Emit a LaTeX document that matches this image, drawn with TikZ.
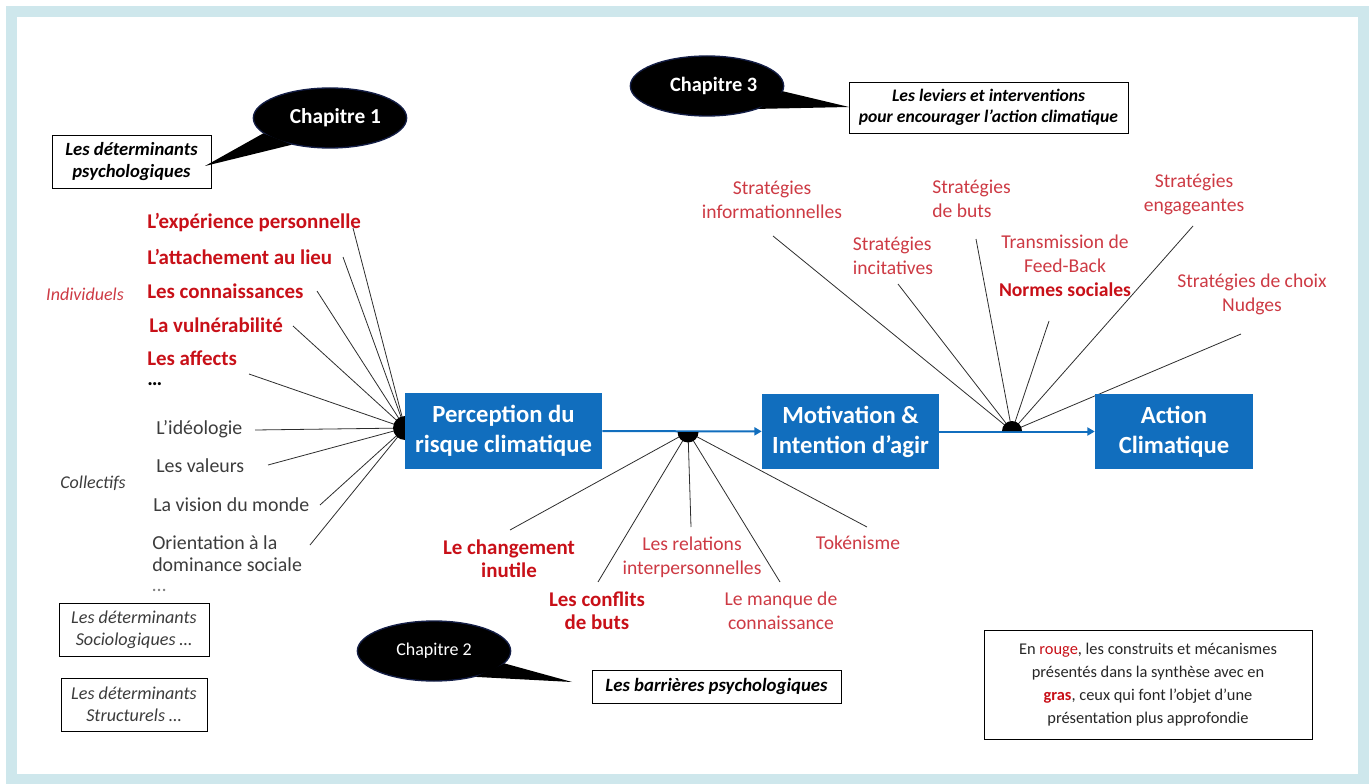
\documentclass[tikz,border=0pt]{standalone}
\usepackage{fontspec}
\setmainfont{Carlito}
\usepackage{xcolor}
\usepackage{tikz}
\usetikzlibrary{arrows.meta,shapes.geometric}

\definecolor{frameblue}{RGB}{206,231,236}
\definecolor{boxblue}{RGB}{17,110,190}
\definecolor{strongred}{RGB}{200,16,24}
\definecolor{softred}{RGB}{205,58,68}
\definecolor{greytext}{RGB}{60,60,60}
\definecolor{spokegrey}{RGB}{45,45,45}
\definecolor{bubbleedge}{RGB}{20,30,70}

\begin{document}
\begin{tikzpicture}[x=0.75pt,y=0.75pt,yscale=-1,xscale=1,
  mainbox/.style={fill=boxblue,text=white,align=center,inner sep=0pt,font=\fontsize{18.5}{22.5}\selectfont\bfseries},
  chapbubble/.style={ellipse,fill=black,draw=bubbleedge,line width=1pt,inner sep=0pt,minimum width=115pt,minimum height=45pt,text=white},
  tagbox/.style={draw=black,line width=0.6pt,fill=white,align=center,inner sep=0pt,font=\fontsize{14}{16}\selectfont\bfseries\itshape},
  keyword/.style={text=strongred,inner sep=0pt,align=center,font=\fontsize{15.7}{17.5}\selectfont\bfseries},
  softlabel/.style={text=softred,inner sep=0pt,align=center,font=\fontsize{14.7}{18}\selectfont},
  greylabel/.style={text=greytext,inner sep=0pt,align=left,font=\fontsize{14.9}{16.5}\selectfont},
  spoke/.style={draw=spokegrey,line width=0.6pt},
  flow/.style={draw=boxblue,line width=1.5pt,-{Triangle[length=5.5pt,width=6pt]}},
  hub/.style={fill=black}
]
\useasboundingbox (0,0) rectangle (1370,784);

%Shape: Frame
\draw[frameblue,line width=8.25pt] (11.5,11.5) rectangle (1363.5,779);

%Hubs
\coordinate (hubL) at (405,428);
\coordinate (hubM) at (688,432);
\coordinate (hubR) at (1012,431);

% Text Node
\node[keyword,anchor=west] (expe) at (147,223) {L’expérience personnelle};
% Text Node
\node[keyword,anchor=west] (attach) at (147,257) {L’attachement au lieu};
% Text Node
\node[keyword,anchor=west] (conn) at (147,291) {Les connaissances};
% Text Node
\node[keyword,anchor=west] (vuln) at (149,325) {La vulnérabilité};
% Text Node
\node[keyword,anchor=west] (affects) at (147,358) {Les affects};
% Text Node
\node[keyword,anchor=west,text=black] (dotsA) at (147,384) {…};
% Text Node
\node[greylabel,anchor=west] (ideo) at (156,429) {L’idéologie};
% Text Node
\node[greylabel,anchor=west] (valeurs) at (156,466) {Les valeurs};
% Text Node
\node[greylabel,anchor=west] (vision) at (153,505) {La vision du monde};
% Text Node
\node[greylabel,anchor=west] (orient) at (152,554) {Orientation à la\\dominance sociale};
% Text Node
\node[greylabel,anchor=west,text=gray] (dotsB) at (152,590) {…};
% Text Node
\node[softlabel,anchor=center,font=\fontsize{13.5}{16}\selectfont\itshape] (indiv) at (85,294) {Individuels};
% Text Node
\node[greylabel,anchor=center,font=\fontsize{13.5}{16}\selectfont\itshape] (collect) at (93,483) {Collectifs};

%Free ends of the spokes
\coordinate (expeEnd) at (353,228);
\coordinate (attachEnd) at (343,257);
\coordinate (connEnd) at (317,291);
\coordinate (vulnEnd) at (293,326);
\coordinate (affectsEnd) at (249,374);
\coordinate (ideoEnd) at (255,430);
\coordinate (valeursEnd) at (268,465);
\coordinate (visionEnd) at (320,505);
\coordinate (orientEnd) at (310,545);

\foreach \e in {expeEnd,attachEnd,connEnd,vulnEnd,affectsEnd,ideoEnd,valeursEnd,visionEnd,orientEnd}
  \draw[spoke] (\e) -- (hubL);

% Text Node
\node[keyword] (chang) at (509,558.5) {Le changement\\inutile};
% Text Node
\node[keyword] (conflits) at (597,611) {Les conflits\\de buts};
% Text Node
\node[softlabel] (relations) at (692,557) {Les relations\\interpersonnelles};
% Text Node
\node[softlabel] (manque) at (781,610.5) {Le manque de\\connaissance};
% Text Node
\node[softlabel] (token) at (858,543) {Tokénisme};

\coordinate (changEnd) at (510,530);
\coordinate (conflitsEnd) at (598,582);
\coordinate (relationsEnd) at (691,527);
\coordinate (manqueEnd) at (780,582);
\coordinate (tokenEnd) at (867,527);

\foreach \e in {changEnd,conflitsEnd,relationsEnd,manqueEnd,tokenEnd}
  \draw[spoke] (\e) -- (hubM);

% Text Node
\node[softlabel] (info) at (772,199.5) {Stratégies\\informationnelles};
% Text Node
\node[softlabel,align=left] (incit) at (893,256) {Stratégies\\incitatives};
% Text Node
\node[softlabel,align=left,anchor=west] (buts) at (932,198.5) {Stratégies\\de buts};
% Text Node
\node[softlabel] (normes) at (1065,266) {Transmission de\\Feed-Back\\{\color{strongred}\bfseries Normes sociales}};
% Text Node
\node[softlabel] (engag) at (1194,194.5) {Stratégies\\engageantes};
% Text Node
\node[softlabel] (nudges) at (1252,294.5) {Stratégies de choix\\Nudges};

\coordinate (infoEnd) at (773,236);
\coordinate (incitEnd) at (898,284);
\coordinate (butsEnd) at (976,239);
\coordinate (normesEnd) at (1049,321);
\coordinate (engagEnd) at (1193,226);
\coordinate (nudgesEnd) at (1241,334);

\foreach \e in {infoEnd,incitEnd,butsEnd,normesEnd,engagEnd,nudgesEnd}
  \draw[spoke] (\e) -- (hubR);

%Shape: Hub dots
\fill[hub] (405,440) arc[start angle=90,end angle=270,radius=12] -- cycle;

%Shape: Main boxes
\node[mainbox,minimum width=147.75pt,minimum height=57pt] (percep) at (503.5,431) {Perception du\\risque climatique};
\node[mainbox,minimum width=132.75pt,minimum height=56.25pt] (motiv) at (850.5,431.5) {Motivation \&\\Intention d’agir};
\node[mainbox,minimum width=118.5pt,minimum height=56.25pt] (action) at (1174,431.5) {Action\\Climatique};

%Straight Lines
\draw[flow] (percep) -- (motiv);
\draw[flow] (motiv) -- (action);
\fill[hub] (698.5,432) arc[start angle=0,end angle=180,radius=10.5] -- cycle;
\fill[hub] (1002,431) arc[start angle=180,end angle=360,radius=10] -- cycle;

%Shape: Callouts
\node[tagbox,minimum width=119.25pt,minimum height=39.75pt] (psycho) at (131.5,161.5) {Les déterminants\\psychologiques};
\coordinate (tipA) at (205,166);
\node[chapbubble,font=\fontsize{16}{18}\selectfont\bfseries] (chapA) at (330,118) {\hspace{8pt}Chapitre 1};
\fill[black] (chapA.193) -- (tipA) -- (chapA.215) -- cycle;

\node[tagbox,minimum width=209.25pt,minimum height=38.25pt,font=\fontsize{13.2}{15.5}\selectfont\bfseries\itshape] (leviers) at (988.5,107.5) {Les leviers et interventions\\pour encourager l’action climatique};
\coordinate (tipC) at (849,107);
\node[chapbubble,font=\fontsize{15.3}{18}\selectfont\bfseries] (chapC) at (707,86) {\hspace{10pt}Chapitre 3};
\fill[black] (chapC.336) -- (tipC) -- (chapC.356) -- cycle;

\node[tagbox,minimum width=186.75pt,minimum height=24.75pt,font=\fontsize{14.1}{16}\selectfont\bfseries\itshape] (barrieres) at (716.5,686.5) {Les barrières psychologiques};
\coordinate (tipB) at (572,682);
\node[chapbubble,font=\fontsize{13.5}{16}\selectfont] (chapB) at (434,651) {Chapitre 2};
\fill[black] (chapB.328) -- (tipB) -- (chapB.350) -- cycle;

%Shape: Side boxes
\node[tagbox,minimum width=112.5pt,minimum height=39.75pt,text=greytext,font=\fontsize{13.6}{16.5}\selectfont\itshape] (socio) at (134,629.5) {Les déterminants\\Sociologiques …};
\node[tagbox,minimum width=109.5pt,minimum height=39.75pt,text=greytext,font=\fontsize{13.6}{16.5}\selectfont\itshape] (struct) at (134,704.5) {Les déterminants\\Structurels …};

%Shape: Legend
\node[draw=black,line width=0.6pt,align=center,inner sep=0pt,minimum width=246pt,minimum height=81.75pt,text=black!85,font=\fontsize{12.3}{17.3}\selectfont] (legend) at (1148,684.5) {En {\color{strongred}rouge}, les construits et mécanismes\\présentés dans la synthèse avec en\\{\color{strongred}\bfseries gras}, ceux qui font l’objet d’une\\présentation plus approfondie};
\end{tikzpicture}
\end{document}
